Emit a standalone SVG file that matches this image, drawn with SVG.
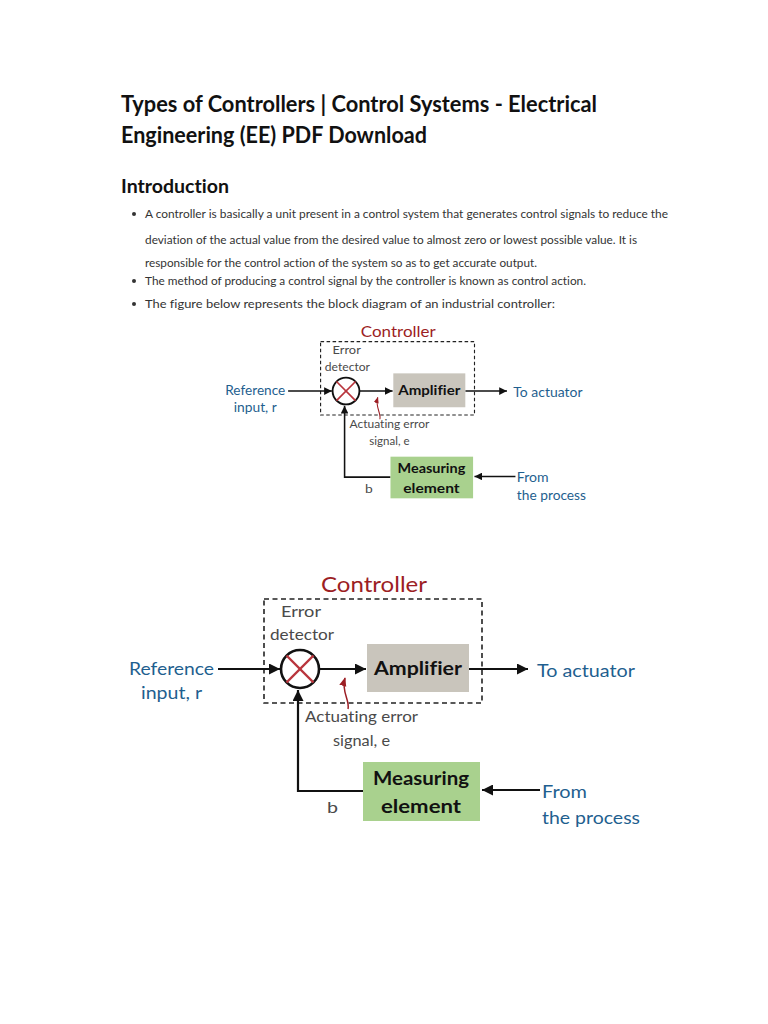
<svg xmlns="http://www.w3.org/2000/svg" xmlns:xlink="http://www.w3.org/1999/xlink" width="768" height="1024" viewBox="0 0 768 1024">
<style>
text{font-variant-ligatures:none;}
.title{font-family:Lato,"Liberation Sans",sans-serif;font-weight:bold;fill:#111;}
.body{font-family:Lato,"Liberation Sans",sans-serif;font-size:11.5px;fill:#333;}
.lbl{font-family:Lato,"Open Sans","Liberation Sans",sans-serif;}
.blue{fill:#1f5f8f;font-size:18px;}
.gray{fill:#4a4a4a;font-size:15px;}
.blk{fill:#111;font-size:19px;font-weight:bold;}
.red{fill:#9c1e24;font-size:22px;}
.wire{stroke:#111;stroke-width:2.2;fill:none;}
</style>
<defs>
<marker id="ah" viewBox="0 0 10 10" refX="10" refY="5" markerWidth="5" markerHeight="5" orient="auto" markerUnits="strokeWidth">
<path d="M0,0 L10,5 L0,10 z" fill="#111"/>
</marker>
<marker id="rh" viewBox="0 0 10 10" refX="9" refY="5" markerWidth="6" markerHeight="6" orient="auto" markerUnits="strokeWidth">
<path d="M0,1 L10,5 L0,9 z" fill="#9c1e24"/>
</marker>
</defs>
<rect width="768" height="1024" fill="#fff"/>

<g id="page-text">
<text class="title" x="121" y="112" font-size="22" textLength="476" lengthAdjust="spacingAndGlyphs">Types of Controllers | Control Systems - Electrical</text>
<text class="title" x="121" y="143" font-size="22" textLength="306" lengthAdjust="spacingAndGlyphs">Engineering (EE) PDF Download</text>
<text class="title" x="121" y="193" font-size="18" textLength="108" lengthAdjust="spacingAndGlyphs">Introduction</text>
<circle cx="134" cy="214" r="2" fill="#333"/>
<circle cx="134" cy="281" r="2" fill="#333"/>
<circle cx="134" cy="304" r="2" fill="#333"/>
<text class="body" x="145" y="218" textLength="523" lengthAdjust="spacingAndGlyphs">A controller is basically a unit present in a control system that generates control signals to reduce the</text>
<text class="body" x="145" y="244" textLength="492" lengthAdjust="spacingAndGlyphs">deviation of the actual value from the desired value to almost zero or lowest possible value. It is</text>
<text class="body" x="145" y="267" textLength="392" lengthAdjust="spacingAndGlyphs">responsible for the control action of the system so as to get accurate output.</text>
<text class="body" x="145" y="285" textLength="441" lengthAdjust="spacingAndGlyphs">The method of producing a control signal by the controller is known as control action.</text>
<text class="body" x="145" y="308" textLength="410" lengthAdjust="spacingAndGlyphs">The figure below represents the block diagram of an industrial controller:</text>
</g>

<g id="diagram">
<g id="controller">
<rect x="264" y="599" width="218" height="104" fill="none" stroke="#222" stroke-width="1.6" stroke-dasharray="5,3.5"/>
<text class="lbl red" x="374" y="592" text-anchor="middle" textLength="106" lengthAdjust="spacingAndGlyphs">Controller</text>
</g>
<g id="connectors">
<line class="wire" x1="218" y1="669" x2="280" y2="669" marker-end="url(#ah)"/>
<line class="wire" x1="319" y1="669" x2="366" y2="669" marker-end="url(#ah)"/>
<line class="wire" x1="469" y1="669" x2="528" y2="669" marker-end="url(#ah)"/>
<polyline class="wire" points="363,791 298,791 298,690" marker-end="url(#ah)"/>
<line class="wire" x1="540" y1="790" x2="482" y2="790" marker-end="url(#ah)"/>
<path d="M348,709 C350,700 341,692 345,678" fill="none" stroke="#9c1e24" stroke-width="1.5" marker-end="url(#rh)"/>
</g>
<g id="error-detector">
<text class="lbl gray" x="301" y="617" text-anchor="middle" textLength="40" lengthAdjust="spacingAndGlyphs">Error</text>
<text class="lbl gray" x="302" y="640" text-anchor="middle" textLength="64" lengthAdjust="spacingAndGlyphs">detector</text>
<circle cx="300" cy="669" r="19" fill="#fff" stroke="#111" stroke-width="2.6"/>
<line x1="286.5" y1="655.5" x2="313.5" y2="682.5" stroke="#b8343c" stroke-width="2.4"/>
<line x1="313.5" y1="655.5" x2="286.5" y2="682.5" stroke="#b8343c" stroke-width="2.4"/>
</g>
<g id="amplifier">
<rect x="367" y="644" width="102" height="48" fill="#c9c5bc"/>
<text class="lbl blk" x="418" y="675" text-anchor="middle" textLength="88" lengthAdjust="spacingAndGlyphs">Amplifier</text>
</g>
<g id="measuring-element">
<rect x="363" y="762" width="117" height="59" fill="#a9d18e"/>
<text class="lbl blk" x="421" y="785" text-anchor="middle" textLength="96" lengthAdjust="spacingAndGlyphs">Measuring</text>
<text class="lbl blk" x="421" y="813" text-anchor="middle" textLength="80" lengthAdjust="spacingAndGlyphs">element</text>
</g>
<g id="labels">
<text class="lbl blue" x="129" y="675" textLength="85" lengthAdjust="spacingAndGlyphs">Reference</text>
<text class="lbl blue" x="141" y="699" textLength="61" lengthAdjust="spacingAndGlyphs">input, r</text>
<text class="lbl blue" x="537" y="677" textLength="98" lengthAdjust="spacingAndGlyphs">To actuator</text>
<text class="lbl blue" x="542" y="798" textLength="45" lengthAdjust="spacingAndGlyphs">From</text>
<text class="lbl blue" x="542" y="824" textLength="98" lengthAdjust="spacingAndGlyphs">the process</text>
<text class="lbl gray" x="305" y="722" textLength="113" lengthAdjust="spacingAndGlyphs">Actuating error</text>
<text class="lbl gray" x="333" y="746" textLength="57" lengthAdjust="spacingAndGlyphs">signal, e</text>
<text class="lbl gray" x="327" y="813" font-size="16" textLength="11" lengthAdjust="spacingAndGlyphs">b</text>
</g>
</g>

<use xlink:href="#diagram" href="#diagram" transform="translate(134.2,-81.3) scale(0.706)"/>
</svg>
